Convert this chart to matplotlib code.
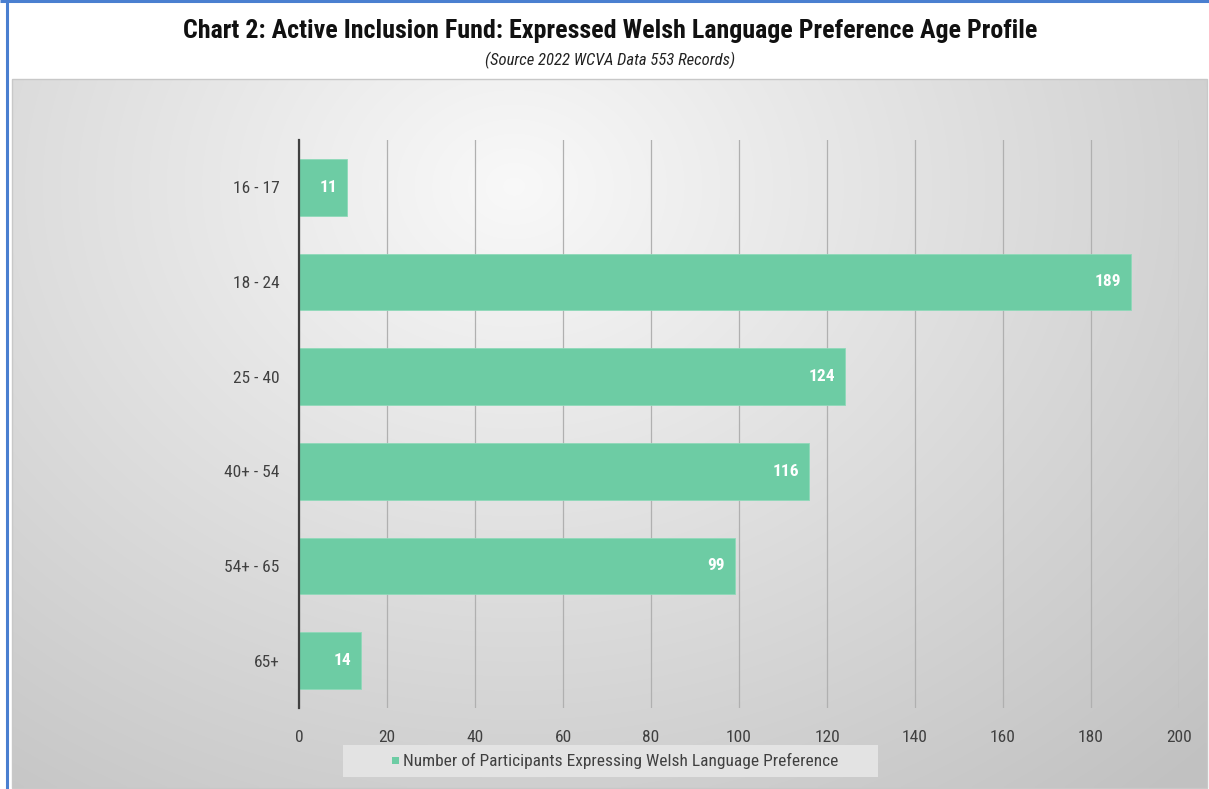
import numpy as np
import matplotlib
matplotlib.use("Agg")
import matplotlib.pyplot as plt
from matplotlib import font_manager as fm
from matplotlib.patches import Rectangle

categories = ["16 - 17", "18 - 24", "25 - 40", "40+ - 54", "54+ - 65", "65+"]
values = [11, 189, 124, 116, 99, 14]
x_ticks = [0, 20, 40, 60, 80, 100, 120, 140, 160, 180, 200]
series_name = "Number of Participants Expressing Welsh Language Preference"
title = "Chart 2: Active Inclusion Fund: Expressed Welsh Language Preference Age Profile"
subtitle = "(Source 2022 WCVA Data 553 Records)"

names = {f.name for f in fm.fontManager.ttflist}
def pick(cands):
    for c in cands:
        if c in names:
            return c
    return "DejaVu Sans"
narrow = pick(["Liberation Sans Narrow", "Roboto Condensed", "Open Sans Condensed", "DejaVu Sans"])

W, H = 1209, 789
fig = plt.figure(figsize=(W / 100, H / 100), dpi=100)
fig.patch.set_facecolor("white")

# background gradient panel
bg = fig.add_axes([0, 0, 1, 1], zorder=-10)
bg.set_xlim(0, W)
bg.set_ylim(H, 0)
bg.axis("off")
px0, px1, py0, py1 = 12, 1207, 79, 788
yy, xx = np.mgrid[0:200, 0:300]
u = xx / 299.0
v = yy / 199.0
d = np.sqrt(((u - 0.42) / 0.72) ** 2 + ((v - 0.15) / 1.0) ** 2)
g = np.clip(0.975 - 0.19 * d, 0.76, 0.975)
img = np.dstack([g, g, g])
bg.imshow(img, extent=[px0, px1, py1, py0], aspect="auto", interpolation="bilinear")
bg.add_patch(Rectangle((px0, py0), px1 - px0, py1 - py0, fill=False, ec="#c8c8c8", lw=1))
bg.plot([7, 7], [0, H], color="#4a7fd0", lw=2.2, solid_capstyle="butt")
bg.plot([0, W], [1, 1], color="#4a7fd0", lw=2.2, solid_capstyle="butt")

fig.text(610 / W, 1 - 31 / H, title, ha="center", va="center", fontsize=18.7,
         fontweight="bold", family=narrow, color="#111111")
fig.text(610 / W, 1 - 60 / H, subtitle, ha="center", va="center", fontsize=12,
         style="italic", family=narrow, color="#222222")

ax = fig.add_axes([299 / W, 81 / H, 880 / W, 568 / H])
ax.set_facecolor("none")
y = np.arange(len(categories))
bars = ax.barh(y, values, height=0.6, color="#6dcca4", edgecolor="#8fd9b9", lw=0.6, zorder=3)
ax.set_xlim(0, 200)
ax.set_ylim(len(categories) - 0.5, -0.5)
ax.set_yticks(y)
ax.set_yticklabels(categories, family=narrow, fontsize=12.5, color="#404040")
ax.set_xticks(x_ticks)
ax.set_xticklabels([str(t) for t in x_ticks], family=narrow, fontsize=12.5, color="#404040")
ax.tick_params(axis="y", length=0, pad=14)
ax.tick_params(axis="x", length=0, pad=16)
ax.grid(axis="x", color="#b0b0b0", lw=0.9, zorder=0)
for s in ["top", "right", "bottom"]:
    ax.spines[s].set_visible(False)
ax.spines["left"].set_color("#404040")
ax.spines["left"].set_linewidth(1.6)
ax.spines["left"].set_zorder(4)
for b, v in zip(bars, values):
    ax.text(v - 2.2, b.get_y() + b.get_height() / 2, str(v), ha="right", va="center",
            color="white", fontweight="bold", fontsize=12.5, family=narrow, zorder=5)

# legend box
bg.add_patch(Rectangle((343, 745), 535, 32, facecolor="#e6e6e6", edgecolor="none", alpha=0.9))
bg.add_patch(Rectangle((392, 757), 7, 7, facecolor="#6dcca4", edgecolor="none"))
bg.text(403, 761, series_name, ha="left", va="center", fontsize=12.5, family=narrow, color="#404040")

fig.savefig("out.png", dpi=100, facecolor="white")
